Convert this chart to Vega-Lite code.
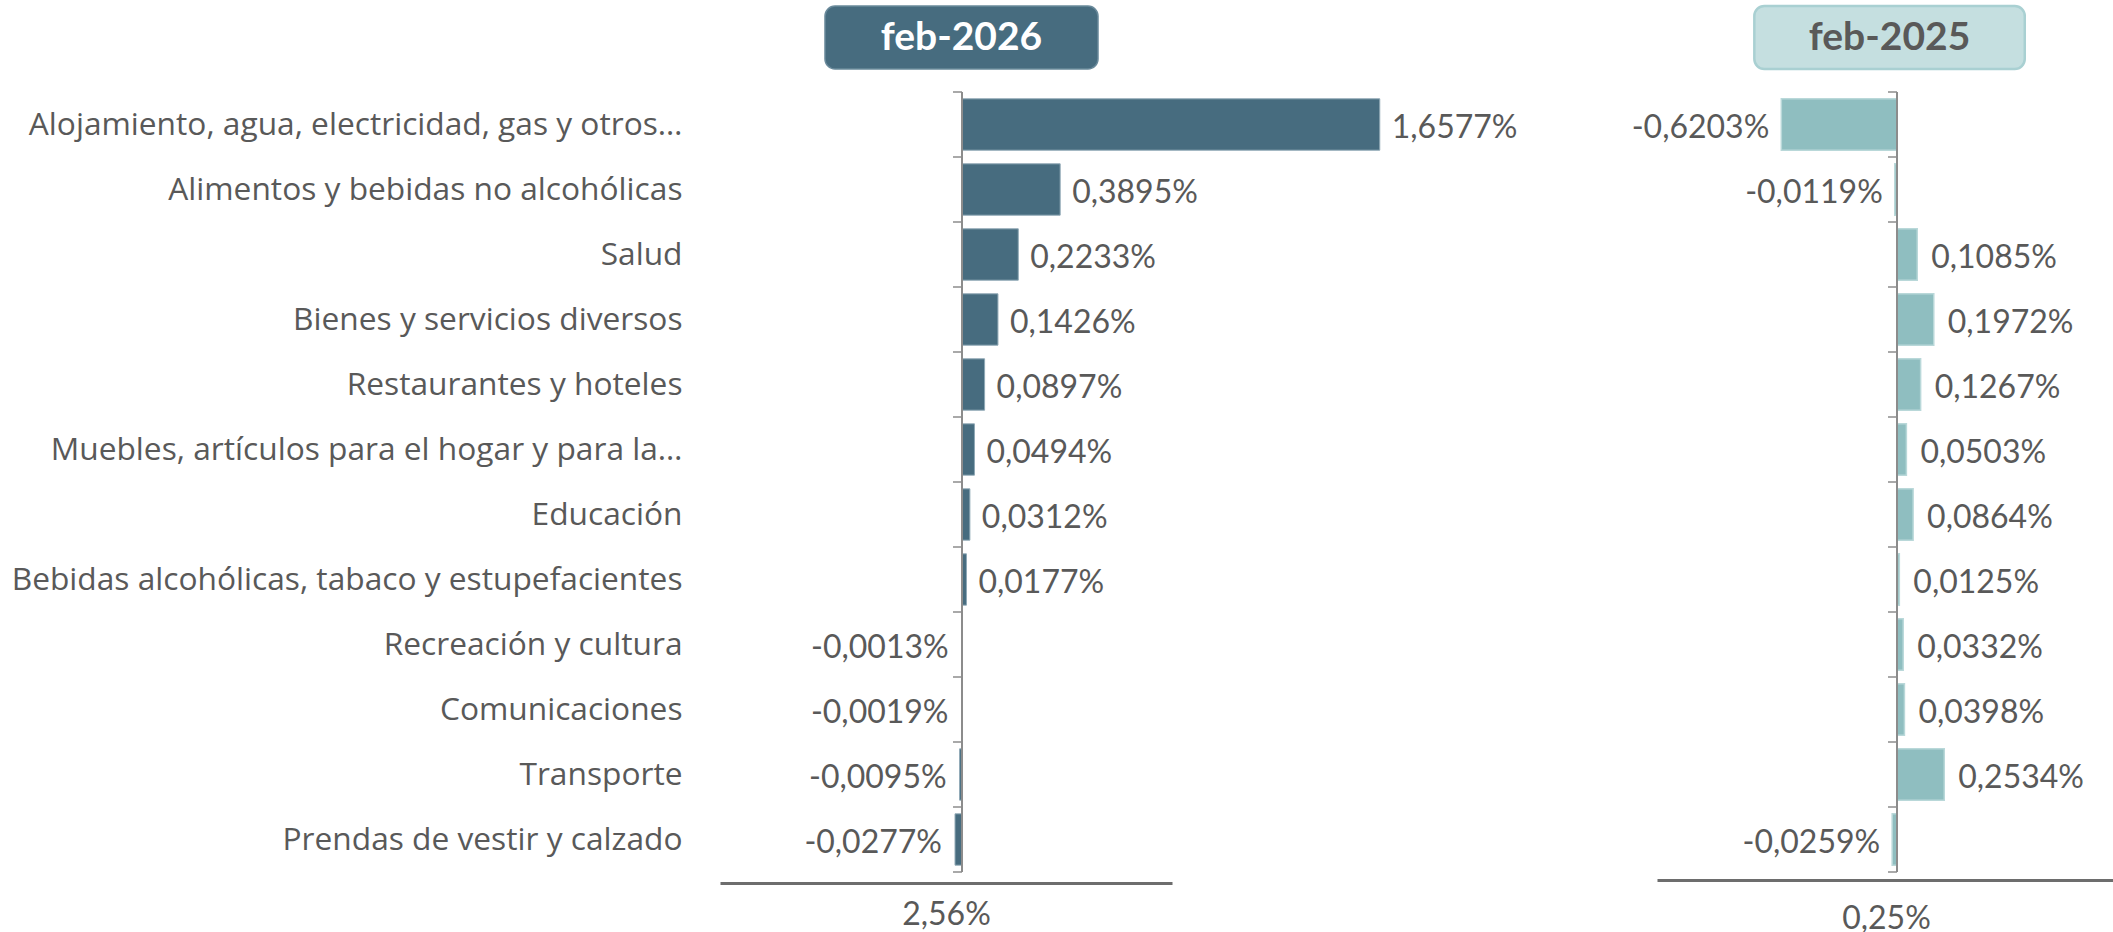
{
  "$schema": "https://vega.github.io/schema/vega-lite/v6.json",
  "padding": {"left": 11, "top": 4, "right": 0, "bottom": 0},
  "background": "#ffffff",
  "config": {
    "locale": {"number": {"decimal": ",", "thousands": ".", "grouping": [3], "currency": ["", " €"], "minus": "-", "percent": "%"}},
    "view": {"stroke": null},
    "font": "Lato"
  },
  "datasets": {
    "main": [
      {"categoria": "Alojamiento, agua, electricidad, gas y otros…", "periodo": "feb-2026", "valor": 0.016577},
      {"categoria": "Alimentos y bebidas no alcohólicas", "periodo": "feb-2026", "valor": 0.003895},
      {"categoria": "Salud", "periodo": "feb-2026", "valor": 0.002233},
      {"categoria": "Bienes y servicios diversos", "periodo": "feb-2026", "valor": 0.001426},
      {"categoria": "Restaurantes y hoteles", "periodo": "feb-2026", "valor": 0.000897},
      {"categoria": "Muebles, artículos para el hogar y para la…", "periodo": "feb-2026", "valor": 0.000494},
      {"categoria": "Educación", "periodo": "feb-2026", "valor": 0.000312},
      {"categoria": "Bebidas alcohólicas, tabaco y estupefacientes", "periodo": "feb-2026", "valor": 0.000177},
      {"categoria": "Recreación y cultura", "periodo": "feb-2026", "valor": -0.000013},
      {"categoria": "Comunicaciones", "periodo": "feb-2026", "valor": -0.000019},
      {"categoria": "Transporte", "periodo": "feb-2026", "valor": -0.000095},
      {"categoria": "Prendas de vestir y calzado", "periodo": "feb-2026", "valor": -0.000277},
      {"categoria": "Alojamiento, agua, electricidad, gas y otros…", "periodo": "feb-2025", "valor": -0.006203},
      {"categoria": "Alimentos y bebidas no alcohólicas", "periodo": "feb-2025", "valor": -0.000119},
      {"categoria": "Salud", "periodo": "feb-2025", "valor": 0.001085},
      {"categoria": "Bienes y servicios diversos", "periodo": "feb-2025", "valor": 0.001972},
      {"categoria": "Restaurantes y hoteles", "periodo": "feb-2025", "valor": 0.001267},
      {"categoria": "Muebles, artículos para el hogar y para la…", "periodo": "feb-2025", "valor": 0.000503},
      {"categoria": "Educación", "periodo": "feb-2025", "valor": 0.000864},
      {"categoria": "Bebidas alcohólicas, tabaco y estupefacientes", "periodo": "feb-2025", "valor": 0.000125},
      {"categoria": "Recreación y cultura", "periodo": "feb-2025", "valor": 0.000332},
      {"categoria": "Comunicaciones", "periodo": "feb-2025", "valor": 0.000398},
      {"categoria": "Transporte", "periodo": "feb-2025", "valor": 0.002534},
      {"categoria": "Prendas de vestir y calzado", "periodo": "feb-2025", "valor": -0.000259}
    ]
  },
  "columns": 2,
  "align": "each",
  "bounds": "flush",
  "spacing": {"row": 23, "column": 485},
  "concat": [
    {
      "width": 452,
      "height": 63,
      "data": {"values": [{"t": "feb-2026"}]},
      "layer": [
        {
          "mark": {"type": "rect", "fill": "#476c7f", "stroke": "#6a8a9b", "strokeWidth": 1.5, "cornerRadius": 10},
          "encoding": {
            "x": {"datum": -0.005437, "type": "quantitative", "scale": {"domain": [-0.009603, 0.008333], "nice": false, "zero": false}, "axis": null},
            "x2": {"datum": 0.005397}
          }
        },
        {
          "mark": {"type": "text", "font": "Lato", "fontSize": 39, "fontWeight": "bold", "color": "#ffffff"},
          "encoding": {
            "x": {"datum": -0.00002, "type": "quantitative"},
            "text": {"field": "t", "type": "nominal"}
          }
        }
      ]
    },
    {
      "width": 458,
      "height": 63,
      "data": {"values": [{"t": "feb-2025"}]},
      "layer": [
        {
          "mark": {"type": "rect", "fill": "#c5dfe0", "stroke": "#a9d0d2", "strokeWidth": 2.5, "cornerRadius": 10},
          "encoding": {
            "x": {"datum": -0.00765, "type": "quantitative", "scale": {"domain": [-0.012869, 0.011689], "nice": false, "zero": false}, "axis": null},
            "x2": {"datum": 0.00685}
          }
        },
        {
          "mark": {"type": "text", "font": "Lato", "fontSize": 39, "fontWeight": "bold", "color": "#595959"},
          "encoding": {
            "x": {"datum": -0.0004, "type": "quantitative"},
            "text": {"field": "t", "type": "nominal"}
          }
        }
      ]
    },
    {
      "width": 452,
      "height": 780,
      "data": {"name": "main"},
      "transform": [{"filter": "datum.periodo === 'feb-2026'"}],
      "layer": [
        {
          "mark": {"type": "bar", "height": {"band": 0.79}, "fill": "#476c7f", "stroke": "#8fa8b5", "strokeWidth": 1},
          "encoding": {
            "x": {
              "field": "valor", "type": "quantitative",
              "scale": {"domain": [-0.009603, 0.008333], "nice": false, "zero": false},
              "axis": {"orient": "bottom", "offset": 11, "domain": true, "domainColor": "#6d6d6d", "domainWidth": 3, "labels": false, "ticks": false, "grid": false, "title": "2,56%", "titleFont": "Lato", "titleFontSize": 32, "titleFontWeight": "normal", "titleColor": "#595959", "titlePadding": 16}
            },
            "y": {
              "field": "categoria", "type": "nominal",
              "scale": {"domain": ["Alojamiento, agua, electricidad, gas y otros…", "Alimentos y bebidas no alcohólicas", "Salud", "Bienes y servicios diversos", "Restaurantes y hoteles", "Muebles, artículos para el hogar y para la…", "Educación", "Bebidas alcohólicas, tabaco y estupefacientes", "Recreación y cultura", "Comunicaciones", "Transporte", "Prendas de vestir y calzado"], "paddingInner": 0, "paddingOuter": 0},
              "axis": {"title": null, "domain": false, "ticks": false, "grid": false, "labelFont": "Open Sans", "labelFontSize": 31.7, "labelColor": "#595959", "labelPadding": 38, "labelLimit": 1000}
            }
          }
        },
        {
          "mark": {"type": "rule", "color": "#8c8c8c", "strokeWidth": 1.5},
          "encoding": {"x": {"datum": 0, "type": "quantitative"}}
        },
        {
          "mark": {"type": "rule", "color": "#8c8c8c", "strokeWidth": 1.5, "xOffset": -9},
          "encoding": {
            "x": {"datum": 0, "type": "quantitative"},
            "x2": {"datum": 0},
            "y": {"field": "categoria", "type": "nominal", "bandPosition": 0}
          }
        },
        {
          "transform": [{"filter": "datum.categoria === 'Prendas de vestir y calzado'"}],
          "mark": {"type": "rule", "color": "#8c8c8c", "strokeWidth": 1.5, "xOffset": -9},
          "encoding": {
            "x": {"datum": 0, "type": "quantitative"},
            "x2": {"datum": 0},
            "y": {"field": "categoria", "type": "nominal", "bandPosition": 1}
          }
        },
        {
          "transform": [{"filter": "datum.valor >= 0"}],
          "mark": {"type": "text", "align": "left", "dx": 12, "dy": 3, "font": "Lato", "fontSize": 32, "color": "#595959"},
          "encoding": {
            "x": {"field": "valor", "type": "quantitative"},
            "y": {"field": "categoria", "type": "nominal"},
            "text": {"field": "valor", "type": "quantitative", "format": ".4%"}
          }
        },
        {
          "transform": [{"filter": "datum.valor < 0"}],
          "mark": {"type": "text", "align": "right", "dx": -13, "dy": 3, "font": "Lato", "fontSize": 32, "color": "#595959"},
          "encoding": {
            "x": {"field": "valor", "type": "quantitative"},
            "y": {"field": "categoria", "type": "nominal"},
            "text": {"field": "valor", "type": "quantitative", "format": ".4%"}
          }
        }
      ]
    },
    {
      "width": 458,
      "height": 780,
      "data": {"name": "main"},
      "transform": [{"filter": "datum.periodo === 'feb-2025'"}],
      "layer": [
        {
          "mark": {"type": "bar", "height": {"band": 0.79}, "fill": "#8fbec0", "stroke": "#b9d8d9", "strokeWidth": 1.5},
          "encoding": {
            "x": {
              "field": "valor", "type": "quantitative",
              "scale": {"domain": [-0.012869, 0.011689], "nice": false, "zero": false},
              "axis": {"orient": "bottom", "offset": 8, "domain": true, "domainColor": "#6d6d6d", "domainWidth": 3, "labels": false, "ticks": false, "grid": false, "title": "0,25%", "titleFont": "Lato", "titleFontSize": 32, "titleFontWeight": "normal", "titleColor": "#595959", "titlePadding": 23}
            },
            "y": {
              "field": "categoria", "type": "nominal",
              "scale": {"domain": ["Alojamiento, agua, electricidad, gas y otros…", "Alimentos y bebidas no alcohólicas", "Salud", "Bienes y servicios diversos", "Restaurantes y hoteles", "Muebles, artículos para el hogar y para la…", "Educación", "Bebidas alcohólicas, tabaco y estupefacientes", "Recreación y cultura", "Comunicaciones", "Transporte", "Prendas de vestir y calzado"], "paddingInner": 0, "paddingOuter": 0},
              "axis": null
            }
          }
        },
        {
          "mark": {"type": "rule", "color": "#8c8c8c", "strokeWidth": 1.5},
          "encoding": {"x": {"datum": 0, "type": "quantitative"}}
        },
        {
          "mark": {"type": "rule", "color": "#8c8c8c", "strokeWidth": 1.5, "xOffset": -9},
          "encoding": {
            "x": {"datum": 0, "type": "quantitative"},
            "x2": {"datum": 0},
            "y": {"field": "categoria", "type": "nominal", "bandPosition": 0, "axis": null}
          }
        },
        {
          "transform": [{"filter": "datum.categoria === 'Prendas de vestir y calzado'"}],
          "mark": {"type": "rule", "color": "#8c8c8c", "strokeWidth": 1.5, "xOffset": -9},
          "encoding": {
            "x": {"datum": 0, "type": "quantitative"},
            "x2": {"datum": 0},
            "y": {"field": "categoria", "type": "nominal", "bandPosition": 1, "axis": null}
          }
        },
        {
          "transform": [{"filter": "datum.valor >= 0"}],
          "mark": {"type": "text", "align": "left", "dx": 14, "dy": 3, "font": "Lato", "fontSize": 32, "color": "#595959"},
          "encoding": {
            "x": {"field": "valor", "type": "quantitative"},
            "y": {"field": "categoria", "type": "nominal", "axis": null},
            "text": {"field": "valor", "type": "quantitative", "format": ".4%"}
          }
        },
        {
          "transform": [{"filter": "datum.valor < 0"}],
          "mark": {"type": "text", "align": "right", "dx": -12, "dy": 3, "font": "Lato", "fontSize": 32, "color": "#595959"},
          "encoding": {
            "x": {"field": "valor", "type": "quantitative"},
            "y": {"field": "categoria", "type": "nominal", "axis": null},
            "text": {"field": "valor", "type": "quantitative", "format": ".4%"}
          }
        }
      ]
    }
  ]
}
